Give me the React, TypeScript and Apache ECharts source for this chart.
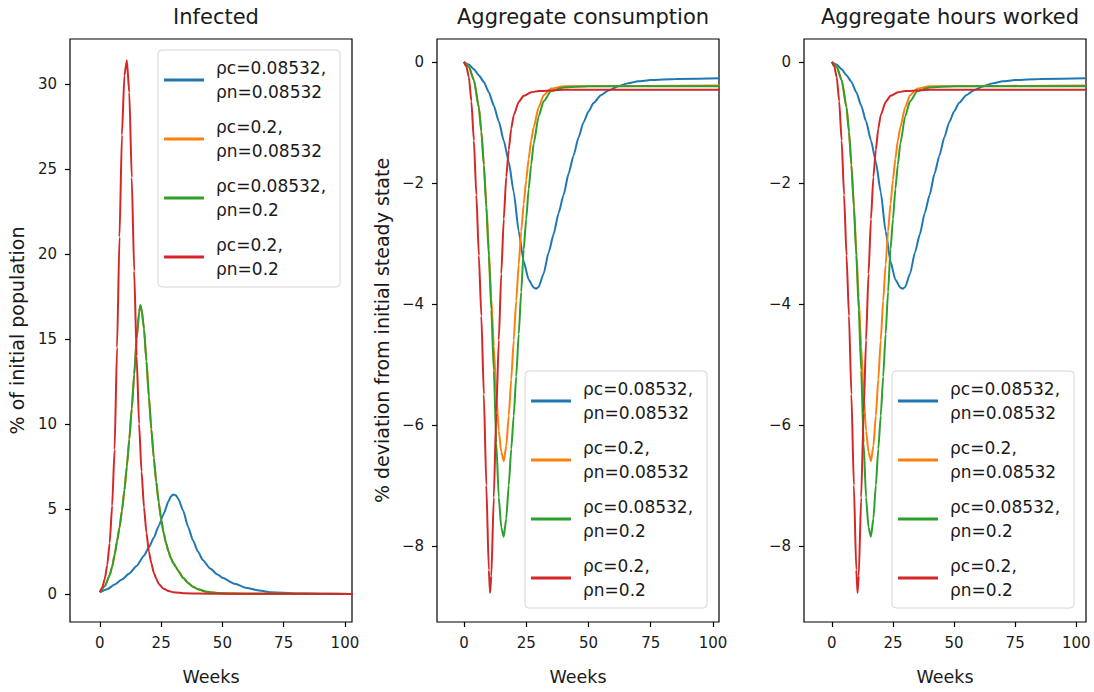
import React, { useEffect, useRef } from "react";
import * as echarts from "echarts";

type Pt = [number, number];

const seriesNames = [
  "ρc=0.08532,\nρn=0.08532",
  "ρc=0.2,\nρn=0.08532",
  "ρc=0.08532,\nρn=0.2",
  "ρc=0.2,\nρn=0.2",
];
const colors = ["#1f77b4", "#ff7f0e", "#2ca02c", "#d62728"];
const titles = ["Infected", "Aggregate consumption", "Aggregate hours worked"];
const xTicks = [0, 25, 50, 75, 100];
const yTicksInfected = [0, 5, 10, 15, 20, 25, 30];
const yTicksDeviation = [0, -2, -4, -6, -8];

// Infected (% of initial population)
const infBlue: Pt[] = [
  [0, 0.1], [3, 0.28], [6, 0.55], [9, 0.85], [12, 1.2], [15, 1.65], [18, 2.25], [20, 2.75],
  [22, 3.3], [24, 4.0], [26, 4.7], [28, 5.45], [29, 5.75], [30, 5.85], [31, 5.8], [32, 5.6],
  [34, 4.9], [36, 3.95], [38, 3.15], [40, 2.5], [42, 2.0], [45, 1.5], [48, 1.15], [50, 0.95],
  [55, 0.6], [60, 0.35], [65, 0.2], [70, 0.1], [80, 0.03], [90, 0.01], [104, 0],
];
const infOrange: Pt[] = [
  [0, 0.1], [2, 0.45], [4, 1.1], [5, 1.6], [6, 2.3], [7, 3.1], [8, 3.9], [9, 4.9], [10, 6.1],
  [11, 7.5], [12, 9.1], [13, 10.9], [14, 12.9], [15, 15.0], [16, 16.5], [16.5, 16.9], [17, 16.75],
  [18, 15.6], [19, 13.7], [20, 11.6], [21, 9.7], [22, 8.0], [23, 6.6], [24, 5.4], [25, 4.4],
  [26, 3.6], [27, 3.0], [28, 2.5], [29, 2.1], [30, 1.8], [31, 1.6], [32, 1.35], [34, 0.95],
  [36, 0.65], [38, 0.42], [40, 0.28], [43, 0.15], [46, 0.08], [50, 0.04], [60, 0.01], [104, 0],
];
const infGreen: Pt[] = [
  [0, 0.1], [2, 0.45], [4, 1.1], [5, 1.6], [6, 2.3], [7, 3.1], [8, 3.9], [9, 4.9], [10, 6.1],
  [11, 7.5], [12, 9.1], [13, 10.9], [14, 12.9], [15, 15.0], [16, 16.6], [16.5, 17.0], [17, 16.8],
  [18, 15.6], [19, 13.7], [20, 11.6], [21, 9.7], [22, 8.0], [23, 6.6], [24, 5.4], [25, 4.4],
  [26, 3.6], [27, 3.0], [28, 2.5], [29, 2.1], [30, 1.8], [31, 1.6], [32, 1.35], [34, 0.95],
  [36, 0.65], [38, 0.42], [40, 0.28], [43, 0.15], [46, 0.08], [50, 0.04], [60, 0.01], [104, 0],
];
const infRed: Pt[] = [
  [0, 0.1], [1, 0.4], [2, 0.9], [3, 1.7], [4, 3.0], [5, 5.2], [6, 8.5], [7, 14.5], [8, 21],
  [9, 27], [10, 30.5], [11, 31.4], [12, 29.5], [13, 24.5], [14, 19], [15, 14], [16, 10],
  [17, 7.2], [18, 5.1], [19, 3.6], [20, 2.5], [21, 1.8], [22, 1.25], [23, 0.9], [24, 0.6],
  [26, 0.3], [28, 0.17], [30, 0.1], [35, 0.04], [40, 0.02], [50, 0.01], [104, 0],
];

// Aggregate consumption (% deviation from initial steady state)
const consBlue: Pt[] = [
  [0, 0], [2, -0.04], [4, -0.12], [6, -0.22], [8, -0.33], [10, -0.5], [12, -0.72], [14, -0.98],
  [16, -1.3], [18, -1.65], [20, -2.15], [22, -2.8], [24, -3.3], [26, -3.6], [28, -3.73],
  [29, -3.75], [30, -3.72], [32, -3.5], [34, -3.15], [36, -2.85], [38, -2.5], [40, -2.2],
  [42, -1.85], [44, -1.55], [46, -1.25], [48, -1.0], [50, -0.82], [52, -0.68], [55, -0.55],
  [58, -0.47], [62, -0.4], [66, -0.35], [70, -0.32], [75, -0.3], [85, -0.28], [104, -0.27],
];
const consOrange: Pt[] = [
  [0, 0], [2, -0.08], [4, -0.3], [6, -0.75], [7, -1.15], [8, -1.7], [9, -2.35], [10, -3.1],
  [11, -3.9], [12, -4.7], [13, -5.5], [14, -6.1], [15, -6.45], [16, -6.6], [17, -6.35],
  [18, -5.85], [19, -5.25], [20, -4.6], [21, -3.95], [22, -3.35], [23, -2.8], [24, -2.35],
  [25, -1.95], [26, -1.6], [27, -1.3], [28, -1.08], [30, -0.75], [32, -0.55], [35, -0.44],
  [40, -0.4], [104, -0.39],
];
const consGreen: Pt[] = [
  [0, 0], [2, -0.08], [4, -0.3], [6, -0.75], [7, -1.15], [8, -1.7], [9, -2.4], [10, -3.2],
  [11, -4.1], [12, -5.1], [13, -6.3], [14, -7.2], [15, -7.7], [16, -7.85], [17, -7.55],
  [18, -7.0], [19, -6.4], [20, -5.85], [21, -5.2], [22, -4.5], [23, -3.8], [24, -3.1],
  [25, -2.6], [26, -2.1], [27, -1.7], [28, -1.35], [30, -0.9], [32, -0.65], [35, -0.48],
  [40, -0.42], [50, -0.4], [104, -0.4],
];
const consRed: Pt[] = [
  [0, 0], [1, -0.08], [2, -0.25], [3, -0.65], [4, -1.3], [5, -2.2], [6, -3.2], [7, -4.2],
  [8, -5.5], [9, -7.0], [10, -8.4], [10.5, -8.78], [11, -8.5], [12, -7.2], [13, -5.8],
  [14, -4.6], [15, -3.5], [16, -2.6], [17, -1.9], [18, -1.45], [19, -1.1], [20, -0.88],
  [22, -0.66], [24, -0.56], [27, -0.5], [30, -0.48], [40, -0.46], [104, -0.46],
];

// Aggregate hours worked (% deviation from initial steady state)
const hoursBlue: Pt[] = [
  [0, 0], [2, -0.04], [4, -0.12], [6, -0.22], [8, -0.33], [10, -0.5], [12, -0.72], [14, -0.98],
  [16, -1.3], [18, -1.65], [20, -2.15], [22, -2.8], [24, -3.3], [26, -3.6], [28, -3.73],
  [29, -3.75], [30, -3.72], [32, -3.5], [34, -3.15], [36, -2.85], [38, -2.5], [40, -2.2],
  [42, -1.85], [44, -1.55], [46, -1.25], [48, -1.0], [50, -0.82], [52, -0.68], [55, -0.55],
  [58, -0.47], [62, -0.4], [66, -0.35], [70, -0.32], [75, -0.3], [85, -0.28], [104, -0.27],
];
const hoursOrange: Pt[] = [
  [0, 0], [2, -0.08], [4, -0.3], [6, -0.75], [7, -1.15], [8, -1.7], [9, -2.35], [10, -3.1],
  [11, -3.9], [12, -4.7], [13, -5.5], [14, -6.1], [15, -6.45], [16, -6.6], [17, -6.35],
  [18, -5.85], [19, -5.25], [20, -4.6], [21, -3.95], [22, -3.35], [23, -2.8], [24, -2.35],
  [25, -1.95], [26, -1.6], [27, -1.3], [28, -1.08], [30, -0.75], [32, -0.55], [35, -0.44],
  [40, -0.4], [104, -0.39],
];
const hoursGreen: Pt[] = [
  [0, 0], [2, -0.08], [4, -0.3], [6, -0.75], [7, -1.15], [8, -1.7], [9, -2.4], [10, -3.2],
  [11, -4.1], [12, -5.1], [13, -6.3], [14, -7.2], [15, -7.7], [16, -7.85], [17, -7.55],
  [18, -7.0], [19, -6.4], [20, -5.85], [21, -5.2], [22, -4.5], [23, -3.8], [24, -3.1],
  [25, -2.6], [26, -2.1], [27, -1.7], [28, -1.35], [30, -0.9], [32, -0.65], [35, -0.48],
  [40, -0.42], [50, -0.4], [104, -0.4],
];
const hoursRed: Pt[] = [
  [0, 0], [1, -0.08], [2, -0.25], [3, -0.65], [4, -1.3], [5, -2.2], [6, -3.2], [7, -4.2],
  [8, -5.5], [9, -7.0], [10, -8.4], [10.5, -8.78], [11, -8.5], [12, -7.2], [13, -5.8],
  [14, -4.6], [15, -3.5], [16, -2.6], [17, -1.9], [18, -1.45], [19, -1.1], [20, -0.88],
  [22, -0.66], [24, -0.56], [27, -0.5], [30, -0.48], [40, -0.46], [104, -0.46],
];

const panelData: Pt[][][] = [
  [infBlue, infOrange, infGreen, infRed],
  [consBlue, consOrange, consGreen, consRed],
  [hoursBlue, hoursOrange, hoursGreen, hoursRed],
];

const FONT = "DejaVu Sans";
const TXT = "#1a1a1a";

export default function App() {
  const ref = useRef<HTMLDivElement>(null);
  useEffect(() => {
    if (!ref.current) return;
    const chart = echarts.init(ref.current, undefined, { renderer: "svg" });
    const grids = [
      { left: 70, top: 39, width: 282, height: 583 },
      { left: 437, top: 39, width: 282, height: 583 },
      { left: 804, top: 39, width: 282, height: 583 },
    ];
    const xRanges = [
      [-12.2, 102.9],
      [-10.8, 102.4],
      [-11.4, 104],
    ];
    const yRanges = [
      [-1.65, 32.65],
      [-9.26, 0.38],
      [-9.26, 0.38],
    ];
    const yTickSets = [yTicksInfected, yTicksDeviation, yTicksDeviation];
    const yNames = ["% of initial population", "% deviation from initial steady state", ""];
    const legendPos = [
      { left: 158, top: 50 },
      { left: 525, top: 371 },
      { left: 892, top: 371 },
    ];
    const fmt = (v: number) => String(v).replace("-", "\u2212");

    const option: any = {
      animation: false,
      backgroundColor: "#fff",
      title: titles.map((t, i) => ({
        text: t,
        left: grids[i].left + grids[i].width / 2,
        textAlign: "center",
        top: 1,
        textStyle: { fontFamily: FONT, fontSize: 21, fontWeight: "normal", color: TXT },
      })),
      grid: grids.map((g) => ({
        ...g,
        show: true,
        borderColor: "#000",
        borderWidth: 1.2,
        backgroundColor: "transparent",
        containLabel: false,
      })),
      xAxis: grids.map((_, i) => ({
        type: "value",
        gridIndex: i,
        min: xRanges[i][0],
        max: xRanges[i][1],
        name: "Weeks",
        nameLocation: "middle",
        nameGap: 46,
        nameTextStyle: { fontFamily: FONT, fontSize: 17.5, color: TXT },
        axisLine: { show: false, onZero: false },
        axisTick: {
          show: true,
          inside: false,
          length: 5,
          customValues: xTicks,
          lineStyle: { color: "#000", width: 1.2 },
        },
        axisLabel: {
          show: true,
          customValues: xTicks,
          margin: 13,
          fontFamily: FONT,
          fontSize: 15,
          color: TXT,
          formatter: fmt,
        },
        splitLine: { show: false },
      })),
      yAxis: grids.map((_, i) => ({
        type: "value",
        gridIndex: i,
        min: yRanges[i][0],
        max: yRanges[i][1],
        name: yNames[i],
        nameLocation: "middle",
        nameGap: i === 0 ? 44 : 46,
        nameRotate: 90,
        nameTextStyle: { fontFamily: FONT, fontSize: 19, color: TXT },
        axisLine: { show: false, onZero: false },
        axisTick: {
          show: true,
          inside: false,
          length: 5,
          customValues: yTickSets[i],
          lineStyle: { color: "#000", width: 1.2 },
        },
        axisLabel: {
          show: true,
          customValues: yTickSets[i],
          margin: 13,
          fontFamily: FONT,
          fontSize: 15,
          color: TXT,
          formatter: fmt,
        },
        splitLine: { show: false },
      })),
      legend: legendPos.map((p) => ({
        ...p,
        orient: "vertical",
        data: seriesNames.map((n, k) => ({
          name: n,
          icon: "rect",
          itemStyle: { color: colors[k] },
        })),
        itemWidth: 40,
        itemHeight: 3,
        itemGap: 11,
        padding: [6, 14, 6, 6],
        backgroundColor: "rgba(255,255,255,0.85)",
        borderColor: "#d6d6d6",
        borderWidth: 1,
        borderRadius: 4,
        selectedMode: false,
        textStyle: {
          fontFamily: FONT,
          fontSize: 17,
          lineHeight: 24,
          color: TXT,
          padding: [0, 0, 0, 7],
        },
      })),
      series: panelData.flatMap((panel, i) =>
        panel.map((data, k) => ({
          type: "line",
          name: seriesNames[k],
          xAxisIndex: i,
          yAxisIndex: i,
          data,
          showSymbol: false,
          symbol: "none",
          smooth: 0.2,
          smoothMonotone: "x",
          clip: true,
          lineStyle: { color: colors[k], width: 2 },
          itemStyle: { color: colors[k] },
        }))
      ),
    };
    chart.setOption(option);
    return () => chart.dispose();
  }, []);
  return (
    <div
      ref={ref}
      style={{ position: "fixed", left: 0, top: 0, width: 1094, height: 692, background: "#fff" }}
    />
  );
}
